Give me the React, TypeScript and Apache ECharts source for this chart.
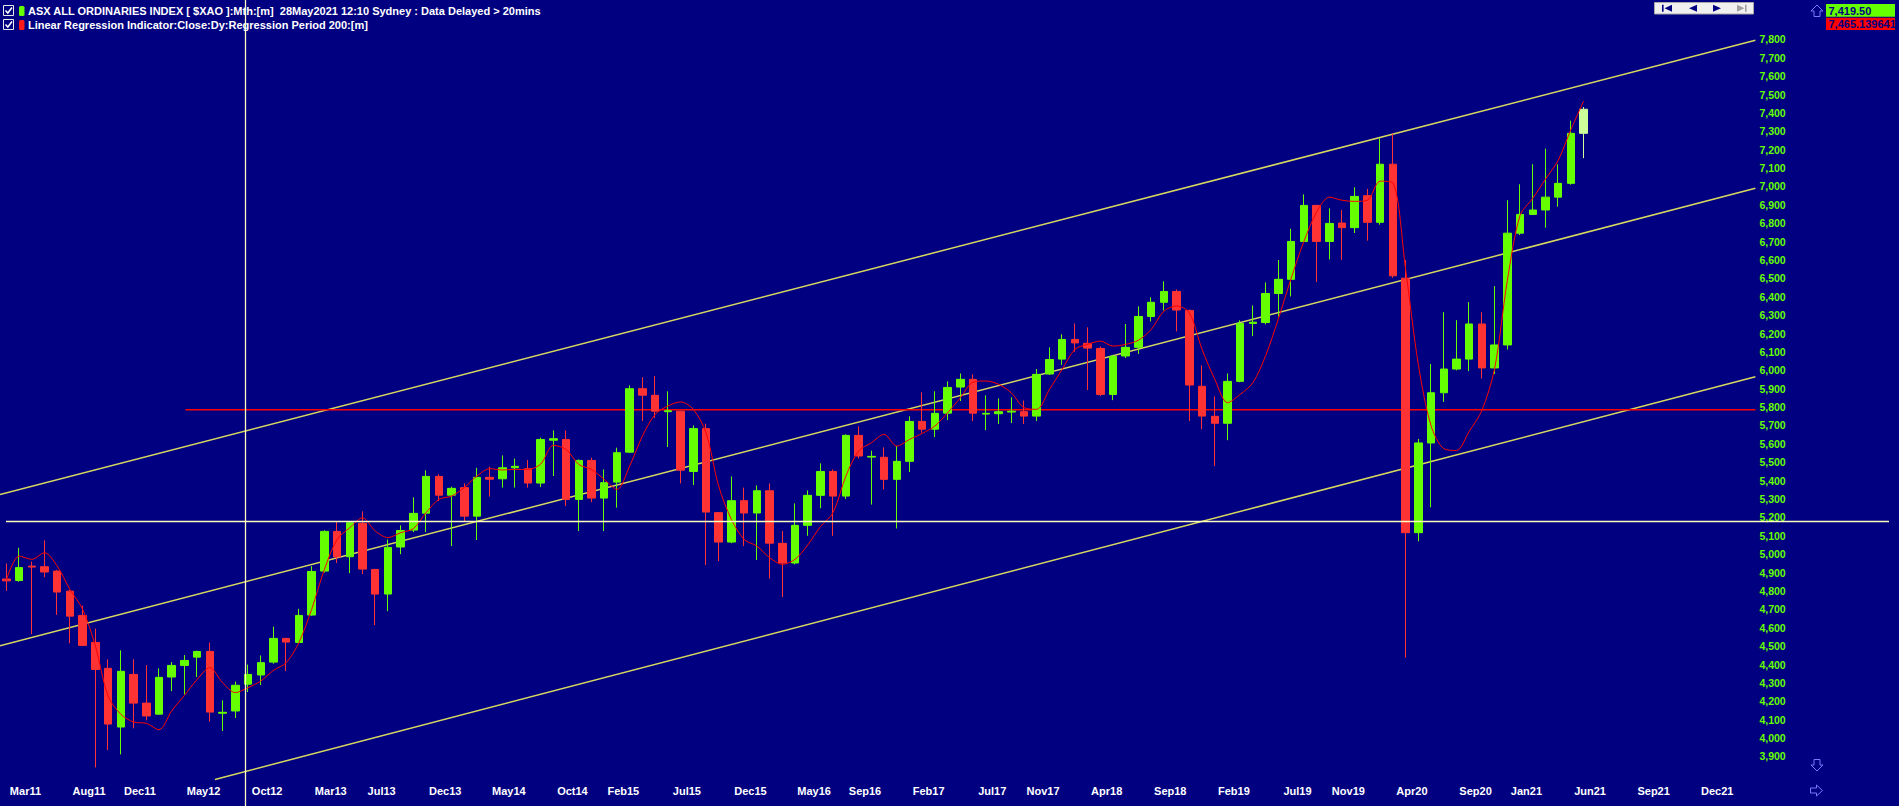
import React, { useEffect, useRef } from 'react';
import * as echarts from 'echarts';

// ---------- data ----------
const MONTHS = ['Jan', 'Feb', 'Mar', 'Apr', 'May', 'Jun', 'Jul', 'Aug', 'Sep', 'Oct', 'Nov', 'Dec'];
const SLOT_COUNT = 138; // Jan 2011 .. plus blank future slots
const categories: string[] = Array.from({ length: SLOT_COUNT }, (_, i) => MONTHS[i % 12] + String(11 + Math.floor(i / 12)));

// monthly candles Jan 2011 .. May 2021 : [open, close, low, high]
const ohlc: number[][] = [
  [4865, 4855, 4800, 4950], [4857, 4927, 4850, 5035], [4935, 4930, 4565, 4960], [4932, 4903, 4875, 5075],
  [4908, 4794, 4670, 4915], [4799, 4663, 4515, 4805], [4667, 4504, 4500, 4720], [4520, 4373, 3840, 4595],
  [4379, 4076, 3935, 4428], [4060, 4363, 3911, 4477], [4346, 4190, 4053, 4428], [4190, 4120, 4096, 4397],
  [4130, 4330, 4128, 4379], [4332, 4395, 4255, 4413], [4395, 4422, 4237, 4451], [4440, 4471, 4332, 4475],
  [4471, 4141, 4089, 4519], [4135, 4140, 4038, 4205], [4147, 4287, 4109, 4307], [4293, 4346, 4250, 4400],
  [4343, 4410, 4288, 4449], [4413, 4542, 4404, 4606], [4542, 4522, 4364, 4545], [4520, 4667, 4515, 4703],
  [4669, 4906, 4665, 4935], [4908, 5124, 4900, 5130], [5124, 4985, 4952, 5180], [4986, 5171, 4897, 5175],
  [5168, 4919, 4892, 5233], [4917, 4783, 4614, 4920], [4783, 5037, 4690, 5080], [5039, 5129, 5000, 5157],
  [5131, 5222, 5120, 5309], [5223, 5423, 5120, 5456], [5423, 5321, 5289, 5434], [5321, 5358, 5044, 5367],
  [5362, 5207, 5180, 5385], [5207, 5418, 5077, 5470], [5418, 5408, 5313, 5476], [5410, 5470, 5362, 5537],
  [5470, 5478, 5362, 5520], [5465, 5387, 5362, 5512], [5387, 5624, 5365, 5634], [5620, 5628, 5425, 5673],
  [5624, 5298, 5262, 5673], [5298, 5510, 5126, 5515], [5510, 5305, 5283, 5525], [5305, 5389, 5126, 5461],
  [5392, 5552, 5253, 5579], [5555, 5900, 5550, 5918], [5900, 5865, 5724, 5963], [5864, 5778, 5741, 5969],
  [5775, 5780, 5583, 5886], [5778, 5457, 5385, 5780], [5450, 5683, 5376, 5700], [5683, 5229, 4941, 5710],
  [5226, 5066, 4962, 5230], [5066, 5291, 5060, 5423], [5291, 5224, 5044, 5362], [5224, 5345, 4968, 5374],
  [5345, 5060, 4867, 5385], [5059, 4952, 4767, 5126], [4952, 5157, 4945, 5276], [5157, 5320, 5100, 5347],
  [5320, 5450, 5250, 5494], [5450, 5316, 5100, 5461], [5316, 5646, 5300, 5652], [5646, 5534, 5520, 5695],
  [5528, 5532, 5270, 5563], [5527, 5407, 5352, 5581], [5407, 5505, 5140, 5588], [5505, 5722, 5447, 5750],
  [5722, 5680, 5661, 5880], [5680, 5766, 5637, 5886], [5767, 5907, 5729, 5940], [5909, 5951, 5833, 5983],
  [5951, 5767, 5724, 5978], [5762, 5766, 5675, 5864], [5764, 5775, 5708, 5847], [5773, 5778, 5713, 5853],
  [5775, 5751, 5708, 5836], [5751, 5978, 5724, 6007], [5980, 6059, 5975, 6125], [6061, 6168, 6029, 6196],
  [6168, 6149, 6101, 6255], [6147, 6121, 5893, 6234], [6119, 5869, 5860, 6129], [5869, 6076, 5838, 6084],
  [6078, 6125, 6067, 6252], [6125, 6293, 6089, 6348], [6293, 6370, 6266, 6397], [6370, 6429, 6326, 6484],
  [6429, 6328, 6212, 6440], [6326, 5920, 5724, 6330], [5913, 5751, 5680, 6027], [5750, 5712, 5480, 5858],
  [5712, 5940, 5620, 5983], [5940, 6255, 5935, 6272], [6255, 6262, 6186, 6353], [6260, 6418, 6250, 6478],
  [6418, 6495, 6293, 6600], [6495, 6701, 6402, 6770], [6701, 6897, 6695, 6957], [6897, 6701, 6480, 6900],
  [6701, 6799, 6603, 6881], [6801, 6776, 6601, 6872], [6776, 6946, 6747, 6996], [6950, 6805, 6705, 6987],
  [6805, 7121, 6792, 7262], [7121, 6514, 6503, 7287], [6501, 5117, 4437, 6599], [5117, 5605, 5070, 5627],
  [5605, 5878, 5255, 6034], [5878, 6007, 5828, 6316], [6007, 6061, 6000, 6273], [6061, 6252, 5996, 6371],
  [6252, 6013, 5955, 6316], [6013, 6138, 5980, 6458], [6138, 6746, 6113, 6925], [6746, 6848, 6736, 7012],
  [6848, 6872, 6845, 7121], [6872, 6942, 6776, 7206], [6942, 7017, 6890, 7121], [7017, 7289, 7010, 7358],
  [7289, 7420, 7154, 7432],
];

// Linear Regression Indicator (period 200, daily) sampled monthly
const regression: number[] = [
  4860, 4990, 4972, 5008, 4935, 4808, 4700, 4500, 4228, 4129, 4087, 4080,
  4045, 4148, 4232, 4319, 4383, 4301, 4247, 4274, 4310, 4368, 4410, 4519,
  4700, 4917, 5080, 5144, 5198, 5126, 5090, 5117, 5139, 5226, 5298, 5316,
  5362, 5425, 5465, 5458, 5461, 5461, 5490, 5592, 5570, 5488, 5461, 5407,
  5352, 5479, 5642, 5760, 5806, 5828, 5788, 5661, 5370, 5189, 5080, 5044,
  4981, 4945, 4972, 5050, 5150, 5227, 5425, 5561, 5606, 5652, 5588, 5624,
  5657, 5697, 5770, 5851, 5936, 5942, 5924, 5878, 5797, 5788, 5896, 6005,
  6114, 6141, 6159, 6132, 6141, 6164, 6222, 6322, 6350, 6313, 6114, 5951,
  5824, 5869, 5933, 6080, 6280, 6500, 6700, 6860, 6942, 6925, 6919, 6925,
  7029, 7020, 6551, 6032, 5699, 5574, 5564, 5668, 5782, 6010, 6489, 6843,
  6936, 7040, 7143, 7310, 7465,
];

// x tick labels: [slot index, text]
const tickLabels: [number, string][] = [
  [2, 'Mar11'], [7, 'Aug11'], [11, 'Dec11'], [16, 'May12'], [21, 'Oct12'], [26, 'Mar13'], [30, 'Jul13'],
  [35, 'Dec13'], [40, 'May14'], [45, 'Oct14'], [49, 'Feb15'], [54, 'Jul15'], [59, 'Dec15'], [64, 'May16'],
  [68, 'Sep16'], [73, 'Feb17'], [78, 'Jul17'], [82, 'Nov17'], [87, 'Apr18'], [92, 'Sep18'], [97, 'Feb19'],
  [102, 'Jul19'], [106, 'Nov19'], [111, 'Apr20'], [116, 'Sep20'], [120, 'Jan21'], [125, 'Jun21'],
  [130, 'Sep21'], [135, 'Dec21'],
];

// y axis range and visible tick labels
const Y_MIN = 3700;
const Y_MAX = 7900;
const Y_STEP = 100;
const Y_LABEL_MIN = 3900;
const Y_LABEL_MAX = 7800;

// drawn trend channel lines: [slot position, price]
const upperChannel: number[][] = [[-0.5, 5325], [137.5, 7795]];
const middleChannel: number[][] = [[-0.5, 4502], [137.5, 6990]];
const lowerChannel: number[][] = [[16.4, 3775], [137.5, 5965]];
const redLevel: number[][] = [[14.08, 5786], [137.5, 5786]];

const lastClose = '7,419.50';
const lastRegression = '7,465.139641';

// ---------- component ----------
export default function App() {
  const ref = useRef<HTMLDivElement>(null);

  useEffect(() => {
    if (!ref.current) return;
    const chart = echarts.init(ref.current, undefined, { renderer: 'svg' });
    const tickMap = new Map<number, string>(tickLabels);
    const candleData = ohlc.map((d, i) =>
      i === ohlc.length - 1 ? { value: d, itemStyle: { color: '#ccff99', borderColor: '#ccff99' } } : d
    );
    const FONT = '"Liberation Sans", Arial, sans-serif';
    const chLine = (data: number[][]) => ({
      type: 'line',
      xAxisIndex: 1,
      yAxisIndex: 0,
      data,
      symbol: 'none',
      silent: true,
      z: 1,
      lineStyle: { color: '#d8d860', width: 1.5 },
    });
    const arrowStyle = { stroke: '#7878ff', fill: 'none', lineWidth: 1 };

    chart.setOption({
      animation: false,
      backgroundColor: '#000080',
      grid: { left: -3.67, right: 143.6, top: 21.0, bottom: 12.8, containLabel: false },
      xAxis: [
        {
          type: 'category',
          data: categories,
          boundaryGap: true,
          axisLine: { show: false },
          axisTick: { show: false },
          splitLine: { show: false },
          axisLabel: {
            color: '#ffffff',
            fontWeight: 'bold',
            fontSize: 11,
            fontFamily: FONT,
            margin: -8,
            padding: [0, 12.7, 0, 0],
            interval: (i: number) => tickMap.has(i),
            formatter: (_v: string, i: number) => tickMap.get(i) ?? '',
          },
        },
        { type: 'value', min: -0.5, max: SLOT_COUNT - 0.5, show: false },
      ],
      yAxis: [
        {
          type: 'value',
          position: 'right',
          min: Y_MIN,
          max: Y_MAX,
          interval: Y_STEP,
          axisLine: { show: false },
          axisTick: { show: false },
          splitLine: { show: false },
          axisLabel: {
            color: '#66ff00',
            fontWeight: 'bold',
            fontSize: 10.5,
            fontFamily: FONT,
            margin: 4,
            formatter: (v: number) => (v < Y_LABEL_MIN || v > Y_LABEL_MAX ? '' : v.toLocaleString('en-US')),
          },
        },
      ],
      series: [
        chLine(upperChannel),
        chLine(middleChannel),
        chLine(lowerChannel),
        {
          type: 'line',
          xAxisIndex: 1,
          data: redLevel,
          symbol: 'none',
          silent: true,
          z: 1,
          lineStyle: { color: '#ff0000', width: 1.5 },
        },
        {
          type: 'candlestick',
          data: candleData,
          barWidth: 8,
          z: 2,
          itemStyle: {
            color: '#66ff00',
            color0: '#ff3333',
            borderColor: '#66ff00',
            borderColor0: '#ff3333',
            borderWidth: 1,
          },
        },
        {
          type: 'line',
          data: regression,
          symbol: 'none',
          smooth: 0.3,
          z: 3,
          lineStyle: { color: '#ff0000', width: 1 },
        },
      ],
      graphic: [
        // crosshair
        { type: 'line', z: 50, shape: { x1: 245.5, y1: 0, x2: 245.5, y2: 806 }, style: { stroke: '#ffffc0', lineWidth: 1.3 } },
        { type: 'line', z: 50, shape: { x1: 6, y1: 521.5, x2: 1889, y2: 521.5 }, style: { stroke: '#ffffc0', lineWidth: 1.3 } },
        // legend row 1
        { type: 'rect', z: 60, shape: { x: 3.5, y: 5.5, width: 10, height: 10 }, style: { fill: '#000080', stroke: '#e8e8e8', lineWidth: 1 } },
        { type: 'polyline', z: 61, shape: { points: [[5.5, 10.5], [7.8, 13], [12, 7.5]] }, style: { stroke: '#ffffff', lineWidth: 1.5, fill: 'none' } },
        { type: 'rect', z: 60, shape: { x: 19, y: 6, width: 5.5, height: 10, r: 1.5 }, style: { fill: '#66ff00' } },
        {
          type: 'text', z: 60, x: 28, y: 11,
          style: { text: 'ASX ALL ORDINARIES INDEX [ $XAO ]:Mth:[m]  28May2021 12:10 Sydney : Data Delayed > 20mins', fill: '#ffffff', font: 'bold 11px ' + FONT, verticalAlign: 'middle' },
        },
        // legend row 2
        { type: 'rect', z: 60, shape: { x: 3.5, y: 19.5, width: 10, height: 10 }, style: { fill: '#000080', stroke: '#e8e8e8', lineWidth: 1 } },
        { type: 'polyline', z: 61, shape: { points: [[5.5, 24.5], [7.8, 27], [12, 21.5]] }, style: { stroke: '#ffffff', lineWidth: 1.5, fill: 'none' } },
        { type: 'rect', z: 60, shape: { x: 19, y: 20, width: 5.5, height: 10, r: 1.5 }, style: { fill: '#ff1a1a' } },
        {
          type: 'text', z: 60, x: 28, y: 25,
          style: { text: 'Linear Regression Indicator:Close:Dy:Regression Period 200:[m]', fill: '#ffffff', font: 'bold 11px ' + FONT, verticalAlign: 'middle' },
        },
        // navigation panel
        { type: 'rect', z: 60, shape: { x: 1654.5, y: 2.5, width: 99, height: 11.5 }, style: { fill: '#f0f0f0', stroke: '#a8a8a8', lineWidth: 1 } },
        { type: 'rect', z: 61, shape: { x: 1662, y: 4.7, width: 1.6, height: 7 }, style: { fill: '#000080' } },
        { type: 'polygon', z: 61, shape: { points: [[1672, 4.7], [1672, 11.7], [1664.5, 8.2]] }, style: { fill: '#000080' } },
        { type: 'polygon', z: 61, shape: { points: [[1697, 4.7], [1697, 11.7], [1689, 8.2]] }, style: { fill: '#000080' } },
        { type: 'polygon', z: 61, shape: { points: [[1713, 4.7], [1713, 11.7], [1721, 8.2]] }, style: { fill: '#000080' } },
        { type: 'polygon', z: 61, shape: { points: [[1737, 4.7], [1737, 11.7], [1744.5, 8.2]] }, style: { fill: '#a0a0a0' } },
        { type: 'rect', z: 61, shape: { x: 1745, y: 4.7, width: 1.6, height: 7 }, style: { fill: '#a0a0a0' } },
        // price boxes
        { type: 'polygon', z: 60, shape: { points: [[1817, 5], [1823, 11], [1820, 11], [1820, 16.5], [1814, 16.5], [1814, 11], [1811, 11]] }, style: arrowStyle },
        { type: 'rect', z: 60, shape: { x: 1826, y: 4, width: 69, height: 12.7 }, style: { fill: '#66ff00' } },
        { type: 'text', z: 61, x: 1828.5, y: 10.5, style: { text: lastClose, fill: '#000080', font: 'bold 11px ' + FONT, verticalAlign: 'middle' } },
        { type: 'rect', z: 60, shape: { x: 1826, y: 17.7, width: 69, height: 12.3 }, style: { fill: '#ff0000' } },
        { type: 'text', z: 61, x: 1828.5, y: 24, style: { text: lastRegression, fill: '#000080', font: 'bold 11px ' + FONT, verticalAlign: 'middle' } },
        // scroll arrows
        { type: 'polygon', z: 60, shape: { points: [[1817, 771], [1823, 765], [1820, 765], [1820, 759.5], [1814, 759.5], [1814, 765], [1811, 765]] }, style: arrowStyle },
        { type: 'polygon', z: 60, shape: { points: [[1822.5, 790.5], [1816.5, 785], [1816.5, 788], [1810.5, 788], [1810.5, 793], [1816.5, 793], [1816.5, 796]] }, style: arrowStyle },
      ],
    });
    return () => chart.dispose();
  }, []);

  return <div ref={ref} style={{ position: 'absolute', left: 0, top: 0, width: 1899, height: 806 }} />;
}
